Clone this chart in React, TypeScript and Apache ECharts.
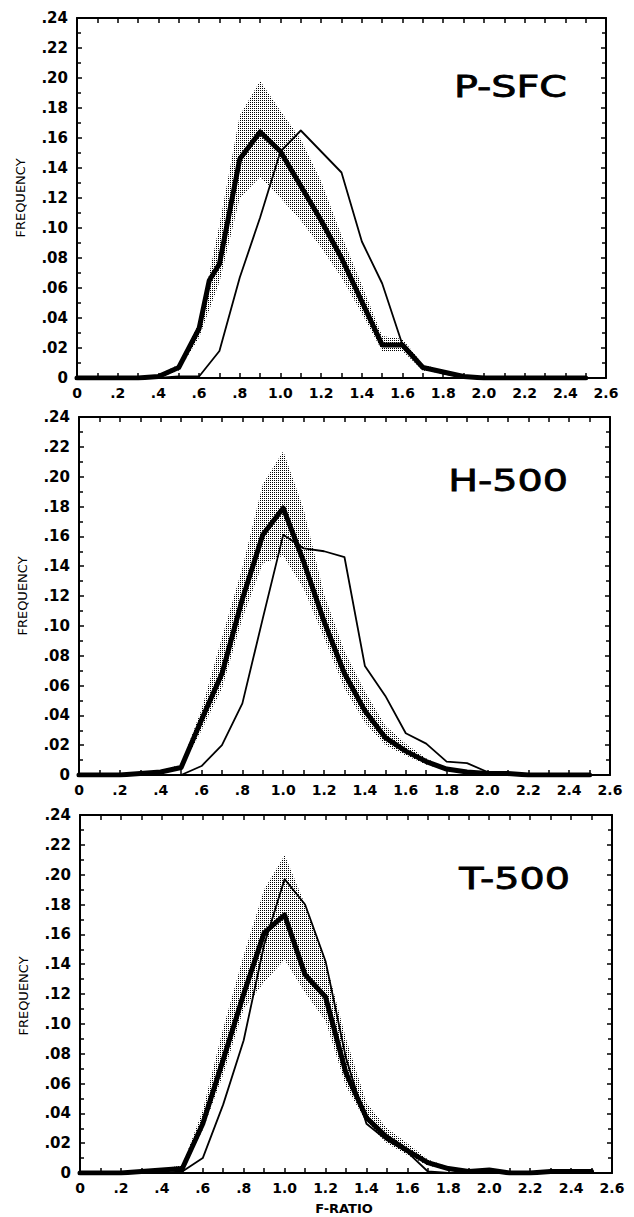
import React, { useEffect, useRef } from "react";
import * as echarts from "echarts";

// F-ratio sample points (x)
const fRatio = [0, 0.1, 0.2, 0.3, 0.4, 0.5, 0.6, 0.7, 0.8, 0.9, 1.0, 1.1, 1.2, 1.3, 1.4, 1.5, 1.6, 1.7, 1.8, 1.9, 2.0, 2.1, 2.2, 2.3, 2.4, 2.5];
const fRatioPsfcThick = [0, 0.1, 0.2, 0.3, 0.4, 0.5, 0.6, 0.65, 0.7, 0.8, 0.9, 1.0, 1.1, 1.2, 1.3, 1.4, 1.5, 1.6, 1.7, 1.8, 1.9, 2.0, 2.1, 2.2, 2.3, 2.4, 2.5];
const bandX = [0.4, 0.5, 0.6, 0.7, 0.8, 0.9, 1.0, 1.1, 1.2, 1.3, 1.4, 1.5, 1.6, 1.7, 1.8];

// P-SFC
const psfcThick = [0, 0, 0, 0, 0.001, 0.007, 0.033, 0.065, 0.076, 0.146, 0.164, 0.151, 0.128, 0.105, 0.080, 0.051, 0.022, 0.022, 0.007, 0.004, 0.001, 0, 0, 0, 0, 0, 0];
const psfcThin = [0, 0, 0, 0, 0, 0.001, 0.001, 0.018, 0.067, 0.107, 0.151, 0.165, 0.151, 0.137, 0.091, 0.063, 0.022, 0.007, 0.003, 0.001, 0, 0, 0, 0, 0, 0];
const psfcLow = [0.000, 0.005, 0.027, 0.064, 0.120, 0.134, 0.120, 0.105, 0.087, 0.067, 0.043, 0.018, 0.018, 0.005, 0.003];
const psfcHigh = [0.002, 0.009, 0.037, 0.102, 0.175, 0.198, 0.178, 0.159, 0.131, 0.095, 0.062, 0.028, 0.026, 0.009, 0.005];

// H-500
const h500Thick = [0, 0, 0, 0.001, 0.002, 0.005, 0.037, 0.068, 0.118, 0.161, 0.179, 0.143, 0.103, 0.068, 0.043, 0.025, 0.016, 0.009, 0.004, 0.002, 0.001, 0.001, 0, 0, 0, 0];
const h500Thin = [0, 0, 0, 0, 0, 0, 0.006, 0.020, 0.048, 0.105, 0.161, 0.152, 0.150, 0.146, 0.073, 0.053, 0.028, 0.021, 0.009, 0.008, 0.002, 0.001, 0, 0, 0, 0];
const h500Low = [0.001, 0.004, 0.030, 0.058, 0.105, 0.142, 0.147, 0.125, 0.092, 0.058, 0.035, 0.020, 0.013, 0.007, 0.003];
const h500High = [0.003, 0.007, 0.044, 0.092, 0.139, 0.195, 0.217, 0.178, 0.121, 0.083, 0.056, 0.033, 0.021, 0.011, 0.005];

// T-500
const t500Thick = [0, 0, 0, 0.001, 0.002, 0.003, 0.033, 0.076, 0.120, 0.161, 0.173, 0.133, 0.118, 0.067, 0.037, 0.024, 0.015, 0.007, 0.003, 0.001, 0.002, 0, 0, 0.001, 0.001, 0.001];
const t500Thin = [0, 0, 0, 0, 0, 0.001, 0.010, 0.046, 0.089, 0.153, 0.197, 0.180, 0.142, 0.077, 0.033, 0.022, 0.014, 0.001, 0, 0, 0, 0, 0, 0, 0, 0];
const t500Low = [0.001, 0.002, 0.029, 0.066, 0.110, 0.128, 0.143, 0.121, 0.102, 0.058, 0.034, 0.020, 0.012, 0.005, 0.002];
const t500High = [0.003, 0.005, 0.042, 0.097, 0.146, 0.190, 0.213, 0.180, 0.142, 0.090, 0.047, 0.030, 0.020, 0.009, 0.004];

const panelNames = ["P-SFC", "H-500", "T-500"];
const xTickLabels = (v: number) => (Math.abs(v) < 1e-9 ? "0" : v < 0.999 ? "." + Math.round(v * 10) : v.toFixed(1));
const yTickLabels = (v: number) => (Math.abs(v) < 1e-9 ? "0" : "." + String(Math.round(v * 100)).padStart(2, "0"));

const FONT = "DejaVu Sans";

function makeStipple() {
  const c = document.createElement("canvas");
  c.width = 2;
  c.height = 2;
  const ctx = c.getContext("2d");
  if (ctx) {
    ctx.fillStyle = "#000";
    ctx.fillRect(0, 0, 1, 1);
  }
  return { image: c, repeat: "repeat", imageWidth: 2, imageHeight: 2 } as any;
}

export default function App() {
  const ref = useRef<HTMLDivElement>(null);
  useEffect(() => {
    if (!ref.current) return;
    const chart = echarts.init(ref.current, null, { renderer: "svg" });
    const stipple = makeStipple();

    const grids = [
      { left: 77, top: 18, width: 529, height: 360 },
      { left: 79, top: 417, width: 531, height: 358 },
      { left: 80, top: 815, width: 532, height: 358 },
    ];

    const axisLineStyle = { color: "#000", width: 2 };
    const xAxes: any[] = [];
    const yAxes: any[] = [];
    grids.forEach((_, i) => {
      const xBase = {
        type: "value",
        gridIndex: i,
        min: 0,
        max: 2.6,
        interval: 0.2,
        axisLine: { show: true, onZero: false, lineStyle: axisLineStyle },
        axisTick: { show: true, inside: true, length: 5, lineStyle: { color: "#000", width: 1.5 } },
        minorTick: { show: true, splitNumber: 2, length: 5, lineStyle: { color: "#000", width: 1.5 } },
        splitLine: { show: false },
        minorSplitLine: { show: false },
      };
      xAxes.push({
        ...xBase,
        position: "bottom",
        axisLabel: {
          show: true,
          formatter: xTickLabels,
          color: "#000",
          fontFamily: FONT,
          fontWeight: "bold",
          fontSize: 14,
          margin: 8,
        },
      });
      xAxes.push({ ...xBase, position: "top", axisLabel: { show: false } });
      const yBase = {
        type: "value",
        gridIndex: i,
        min: 0,
        max: 0.24,
        interval: 0.02,
        axisLine: { show: true, onZero: false, lineStyle: axisLineStyle },
        axisTick: { show: true, inside: true, length: 5, lineStyle: { color: "#000", width: 1.5 } },
        minorTick: { show: true, splitNumber: 2, length: 4, lineStyle: { color: "#000", width: 1.5 } },
        splitLine: { show: false },
        minorSplitLine: { show: false },
      };
      yAxes.push({
        ...yBase,
        position: "left",
        axisLabel: {
          show: true,
          formatter: yTickLabels,
          color: "#000",
          fontFamily: FONT,
          fontWeight: "bold",
          fontSize: 15,
          margin: 9,
        },
      });
      yAxes.push({ ...yBase, position: "right", axisLabel: { show: false } });
    });

    const bandSeries = (i: number, lo: number[], up: number[]) => ({
      type: "custom",
      xAxisIndex: 2 * i,
      yAxisIndex: 2 * i,
      z: 1,
      silent: true,
      data: bandX.map((x, k) => [x, lo[k], up[k]]),
      encode: { x: 0, y: [1, 2] },
      renderItem: (params: any, api: any) => {
        if (params.dataIndex !== 0) return { type: "group", children: [] };
        const pts: number[][] = [];
        bandX.forEach((x, k) => pts.push(api.coord([x, up[k]])));
        for (let k = bandX.length - 1; k >= 0; k--) pts.push(api.coord([bandX[k], lo[k]]));
        return { type: "polygon", shape: { points: pts }, style: { fill: stipple, stroke: null } };
      },
    });

    const lineSeries = (i: number, xs: number[], ys: number[], width: number) => ({
      type: "line",
      xAxisIndex: 2 * i,
      yAxisIndex: 2 * i,
      z: width > 3 ? 4 : 3,
      data: xs.map((x, k) => [x, ys[k]]),
      symbol: "none",
      showSymbol: false,
      silent: true,
      lineStyle: { color: "#000", width, join: "round", cap: "round" },
    });

    const series: any[] = [
      bandSeries(0, psfcLow, psfcHigh),
      lineSeries(0, fRatio, psfcThin, 1.8),
      lineSeries(0, fRatioPsfcThick, psfcThick, 5),
      bandSeries(1, h500Low, h500High),
      lineSeries(1, fRatio, h500Thin, 1.8),
      lineSeries(1, fRatio, h500Thick, 5),
      bandSeries(2, t500Low, t500High),
      lineSeries(2, fRatio, t500Thin, 1.8),
      lineSeries(2, fRatio, t500Thick, 5),
    ];

    const labelPos = [
      { x: 567, y: 86 },
      { x: 568, y: 480 },
      { x: 570, y: 878 },
    ];
    const freqPos = [
      { x: 20, y: 198 },
      { x: 22, y: 596 },
      { x: 23, y: 996 },
    ];

    const graphic: any[] = [];
    panelNames.forEach((name, i) => {
      graphic.push({
        type: "text",
        x: labelPos[i].x,
        y: labelPos[i].y,
        scaleX: 1.28,
        style: {
          text: name,
          fill: "#000",
          font: `31px "${FONT}"`,
          align: "right",
          verticalAlign: "middle",
          stroke: "#000",
          lineWidth: 0.8,
        },
        z: 10,
      });
      graphic.push({
        type: "text",
        x: freqPos[i].x,
        y: freqPos[i].y,
        rotation: Math.PI / 2,
        style: {
          text: "FREQUENCY",
          fill: "#000",
          font: `13px "${FONT}"`,
          align: "center",
          verticalAlign: "middle",
        },
        z: 10,
      });
    });
    graphic.push({
      type: "text",
      x: 344,
      y: 1208,
      style: {
        text: "F-RATIO",
        fill: "#000",
        font: `bold 13px "${FONT}"`,
        align: "center",
        verticalAlign: "middle",
      },
    });

    chart.setOption({
      animation: false,
      backgroundColor: "#fff",
      grid: grids,
      xAxis: xAxes,
      yAxis: yAxes,
      series,
      graphic,
    });
    return () => chart.dispose();
  }, []);
  return <div ref={ref} style={{ position: "absolute", left: 0, top: 0, width: 634, height: 1217 }} />;
}
